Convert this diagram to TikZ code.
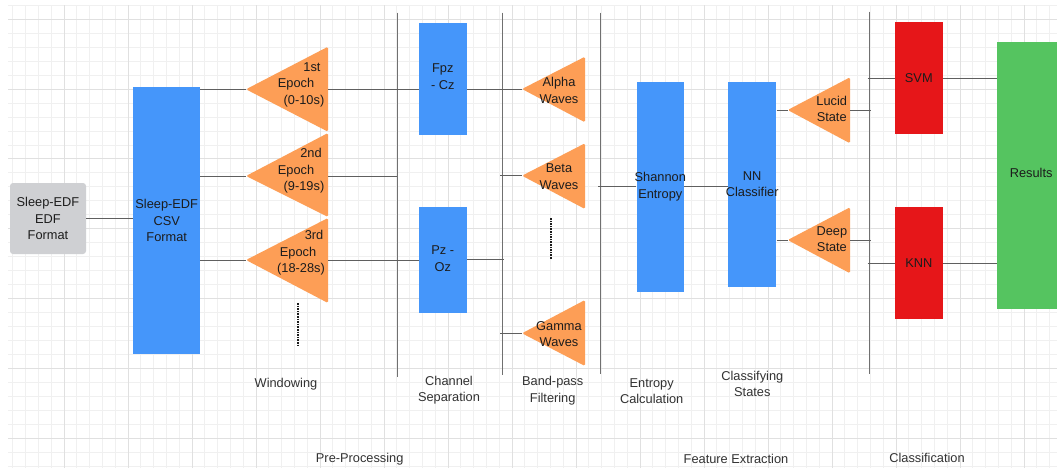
\documentclass[tikz,border=0pt]{standalone}
\usepackage{fontspec}
\setmainfont{Liberation Sans}
\definecolor{gridminor}{RGB}{240,240,240}
\definecolor{gridmajor}{RGB}{224,224,224}
\definecolor{boxblue}{RGB}{69,150,250}
\definecolor{triorange}{RGB}{253,158,86}
\definecolor{boxred}{RGB}{230,22,25}
\definecolor{boxgreen}{RGB}{85,196,96}
\definecolor{boxgrey}{RGB}{207,208,211}
\definecolor{linegrey}{RGB}{95,95,95}
\definecolor{divgrey}{RGB}{112,112,112}
\definecolor{textdark}{RGB}{28,28,28}
\definecolor{captiongrey}{RGB}{50,50,50}
% shift one centred line sideways without changing its width
\newcommand{\nudge}[2]{\kern#1pt\relax#2\kern-#1pt\relax}
\begin{document}
\begin{tikzpicture}[x=1pt,y=-1pt,
  every node/.style={font=\fontsize{12.8}{16.5}\selectfont, text=textdark, inner sep=0pt, align=center},
  block/.style={rectangle, draw=none},
  greybox/.style={block, fill=boxgrey, rounded corners=3pt},
  bluebox/.style={block, fill=boxblue},
  redbox/.style={block, fill=boxred},
  greenbox/.style={block, fill=boxgreen},
  tri/.style={fill=triorange, rounded corners=1.5pt},
  conn/.style={draw=linegrey, line width=0.9pt},
  divider/.style={draw=divgrey, line width=1.1pt},
  ellipsis/.style={draw=textdark, line width=2.2pt, dash pattern=on 1.6pt off 1pt},
  phasecaption/.style={text=captiongrey}
]
\useasboundingbox (0,0) rectangle (1057,468);
\clip (0,0) rectangle (1057,468);
\fill[white] (0,0) rectangle (1057,468);

% background grid
\foreach \i in {1,...,82} \draw[gridminor, line width=0.8pt] (12.8*\i,5.3) -- (12.8*\i,468);
\foreach \k in {0,...,33} \draw[gridminor, line width=0.8pt] (8,5.3+13.96*\k) -- (1057,5.3+13.96*\k);
\foreach \i in {5,10,...,80} \draw[gridmajor, line width=0.9pt] (12.8*\i,5.3) -- (12.8*\i,468);
\foreach \k in {1,6,...,31} \draw[gridmajor, line width=0.9pt] (8,5.3+13.96*\k) -- (1057,5.3+13.96*\k);

% stage dividers
\coordinate (d1top) at (397.3,12.7); \coordinate (d1bot) at (397.3,376.7);
\coordinate (d2top) at (502.3,12.7); \coordinate (d2bot) at (502.3,375);
\coordinate (d3top) at (600.7,12.7); \coordinate (d3bot) at (600.7,374);
\coordinate (d4top) at (869.3,11.7); \coordinate (d4bot) at (869.3,374.3);
\draw[divider] (d1top) -- (d1bot);
\draw[divider] (d2top) -- (d2bot);
\draw[divider] (d3top) -- (d3bot);
\draw[divider] (d4top) -- (d4bot);

% rectangular blocks
\node[greybox, minimum width=76pt, minimum height=71pt] (edf) at (48,218.5) {};
\node[bluebox, minimum width=66.7pt, minimum height=266.7pt] (csv) at (166.7,220.7) {};
\node[bluebox, minimum width=47.7pt, minimum height=112.3pt] (fpz) at (442.8,78.8) {};
\node[bluebox, minimum width=47.7pt, minimum height=106pt] (pzoz) at (442.8,260) {};
\node[bluebox, minimum width=47.3pt, minimum height=210pt] (shannon) at (660.3,186.7) {};
\node[bluebox, minimum width=48.3pt, minimum height=205.6pt] (nn) at (752.2,184.5) {};
\node[redbox, minimum width=47.7pt, minimum height=112.3pt] (svm) at (918.8,78.2) {};
\node[redbox, minimum width=47.7pt, minimum height=112pt] (knn) at (918.8,263.3) {};
\node[greenbox, minimum width=67.7pt, minimum height=266.7pt] (results) at (1031.2,175.7) {};

\node (edftext) at (edf) {Sleep-EDF\\EDF\\Format};
\node (csvtext) at (csv) {Sleep-EDF\\CSV\\Format};
\node (fpztext) at (442.8,76.5) {Fpz\\- Cz};
\node (pzoztext) at (442.8,258.5) {Pz -\\Oz};
\node (shannontext) at (660.3,186.7) {Shannon\\Entropy};
\node (nntext) at (752.2,184) {NN\\Classifier};
\node (svmtext) at (svm) {SVM};
\node (knntext) at (knn) {KNN};
\node (resultstext) at (1031.2,172.7) {Results};

% epoch windows
\coordinate (e1in) at (246,89.3);  \coordinate (e1out) at (328,89.3);
\coordinate (e2in) at (246,176);   \coordinate (e2out) at (328,176);
\coordinate (e3in) at (246,260);   \coordinate (e3out) at (328,260);
\fill[tri] (328,46.7) -- (e1in) -- (328,131.7) -- cycle;
\fill[tri] (328,133) -- (e2in) -- (328,217) -- cycle;
\fill[tri] (328,218) -- (e3in) -- (328,303) -- cycle;
\node (e1text) at (304,84.5) {\nudge{8}{1st}\\\nudge{-8}{Epoch}\\(0-10s)};
\node (e2text) at (304,171) {\nudge{7}{2nd}\\\nudge{-8}{Epoch}\\(9-19s)};
\node (e3text) at (301,253) {\nudge{13}{3rd}\\\nudge{-3}{Epoch}\\(18-28s)};

% frequency bands
\coordinate (w1in) at (522,89);    \coordinate (w1out) at (585,89);
\coordinate (w2in) at (522,175.7); \coordinate (w2out) at (585,175.7);
\coordinate (w3in) at (522,333.3); \coordinate (w3out) at (585,333.3);
\fill[tri] (585,56.7) -- (w1in) -- (585,122.3) -- cycle;
\fill[tri] (585,143.3) -- (w2in) -- (585,209) -- cycle;
\fill[tri] (585,300) -- (w3in) -- (585,366) -- cycle;
\node (w1text) at (559,90.5) {Alpha\\Waves};
\node (w2text) at (559,176.5) {Beta\\Waves};
\node (w3text) at (559,334) {Gamma\\Waves};

% sleep states
\coordinate (s1in) at (787.7,110); \coordinate (s1out) at (850,110);
\coordinate (s2in) at (787.7,240); \coordinate (s2out) at (850,240);
\fill[tri] (850,77.3) -- (s1in) -- (850,143.3) -- cycle;
\fill[tri] (850,207.3) -- (s2in) -- (850,273.3) -- cycle;
\node (s1text) at (831.7,108.7) {Lucid\\State};
\node (s2text) at (831.9,239.2) {Deep\\State};

% continuation marks
\coordinate (dots1top) at (297.7,303); \coordinate (dots1bot) at (297.7,346);
\coordinate (dots2top) at (550.7,218); \coordinate (dots2bot) at (550.7,259);
\draw[ellipsis] (dots1top) -- (dots1bot);
\draw[ellipsis] (dots2top) -- (dots2bot);

% connectors
\draw[conn] (edf.east) -- (edf.east -| csv.west);
\draw[conn] (e1in -| csv.east) -- (e1in);
\draw[conn] (e2in -| csv.east) -- (e2in);
\draw[conn] (e3in -| csv.east) -- (e3in);
\draw[conn] (e1out) -- (e1out -| fpz.west);
\draw[conn] (e2out) -- (e2out -| d1top);
\draw[conn] (e3out) -- (e3out -| pzoz.west);
\draw[conn] (w1in -| fpz.east) -- (w1in);
\coordinate (pzend) at (504,259.7);
\draw[conn] (pzend -| pzoz.east) -- (pzend);
\coordinate (w2stub) at (500,175.7);
\coordinate (w3stub) at (500,333.3);
\draw[conn] (w2stub) -- (w2in);
\draw[conn] (w3stub) -- (w3in);
\coordinate (sestub) at (598,186);
\draw[conn] (sestub) -- (sestub -| shannon.west);
\draw[conn] (sestub -| shannon.east) -- (sestub -| nn.west);
\draw[conn] (s1in -| nn.east) -- (s1in);
\draw[conn] (s2in -| nn.east) -- (s2in);
\coordinate (s1end) at (871,110);
\coordinate (s2end) at (871,240);
\draw[conn] (s1out) -- (s1end);
\draw[conn] (s2out) -- (s2end);
\coordinate (svmstub) at (867.7,78.3);
\coordinate (knnstub) at (867.7,263.3);
\draw[conn] (svmstub) -- (svmstub -| svm.west);
\draw[conn] (knnstub) -- (knnstub -| knn.west);
\draw[conn] (svmstub -| svm.east) -- (svmstub -| results.west);
\draw[conn] (knnstub -| knn.east) -- (knnstub -| results.west);

% stage captions
\node[phasecaption] (capwin) at (286,384) {Windowing};
\node[phasecaption] (capchan) at (449,390.3) {Channel\\Separation};
\node[phasecaption] (capband) at (552.7,390.5) {Band-pass\\Filtering};
\node[phasecaption] (capent) at (651.7,391.3) {Entropy\\Calculation};
\node[phasecaption] (capstate) at (752.3,384) {Classifying\\States};
\node[phasecaption] (cappre) at (359.7,459) {Pre-Processing};
\node[phasecaption] (capfeat) at (736,459) {Feature Extraction};
\node[phasecaption] (capclass) at (927,458.3) {Classification};
\end{tikzpicture}
\end{document}
